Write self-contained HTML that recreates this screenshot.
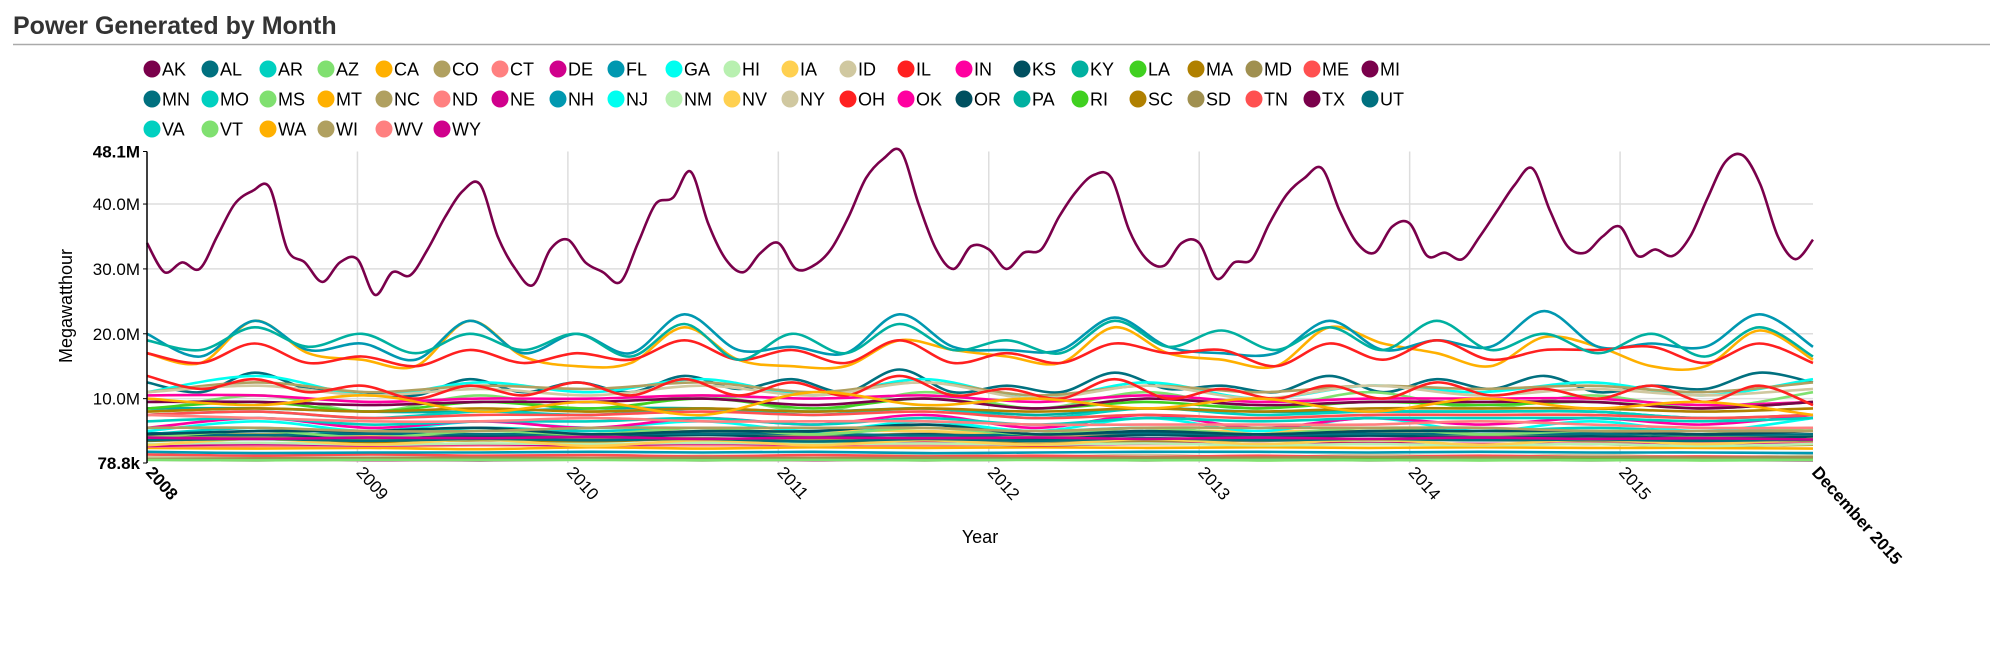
<!DOCTYPE html>
<html><head><meta charset="utf-8"><style>
html,body{margin:0;padding:0;background:#fff;width:2000px;height:653px;overflow:hidden}
svg text{font-family:"Liberation Sans",sans-serif}
</style></head><body>
<svg id="chart" width="2000" height="653" viewBox="0 0 2000 653" xmlns="http://www.w3.org/2000/svg">
<text x="13" y="34" font-size="25" font-weight="bold" fill="#333">Power Generated by Month</text>
<line x1="13" y1="44.5" x2="1990" y2="44.5" stroke="#aaa" stroke-width="1.5"/>
<g id="legend"></g>
<g id="grid"></g>
<g id="series"></g>
<g id="axes"></g>
<text transform="translate(72,306) rotate(-90)" text-anchor="middle" font-size="18" fill="#000">Megawatthour</text>
<text x="980" y="543" text-anchor="middle" font-size="18" fill="#000">Year</text>
</svg>
<script>
const states = ["AK","AL","AR","AZ","CA","CO","CT","DE","FL","GA","HI","IA","ID","IL","IN","KS","KY","LA","MA","MD","ME","MI","MN","MO","MS","MT","NC","ND","NE","NH","NJ","NM","NV","NY","OH","OK","OR","PA","RI","SC","SD","TN","TX","UT","VA","VT","WA","WI","WV","WY"];
const palette = ["#7a004b","#00707f","#00d0c0","#80e070","#ffb000","#b0a060","#ff8080","#d0008c","#0098b0","#00fff0","#b8f0b0","#ffd050","#d0c8a0","#ff2020","#ff00a0","#005060","#00b0a0","#40d020","#b08000","#a09050","#ff5050"];
const yTicks = [10,20,30,40];
const yTickLabels = ["10.0M","20.0M","30.0M","40.0M"];
const yMin = 0.0788, yMax = 48.1;
const xYears = ["2009","2010","2011","2012","2013","2014","2015"];
const TX = [34,29.5,31,30,35,40,42,42.5,33,31,28,31,
 31.5,26,29.5,29,33,38,42,43,35,30,27.5,33,
 34.5,31,29.5,28,34,40,41,45,37,31.5,29.5,32.5,
 34,30,30.5,33,38,44,47,48.1,40,33,30,33.5,
 33,30,32.5,33,38,42,44.5,44,36,31.5,30.5,34,
 34,28.5,31,31.5,37,41.5,44,45.5,39,34,32.5,36.5,
 37,32,32.5,31.5,35,39,43,45.5,39,33.5,32.5,35,
 36.5,32,33,32,35,41,46.5,47.5,43,35,31.5,34.5];
const FL = [20,16.5,22,17.5,18.5,16,22,17,20,17,23,17.5,18,17,23,18,17.5,17.5,22.5,18,17,17,22,17.5,19,18,23.5,18,18.5,18,23,18];
const PA = [19,17.5,21,18,20,17,20,17.5,20,16.5,21.5,16,20,17,21.5,17.5,19,17,22,18,20.5,17.5,21,17.5,22,17.5,20,17,20,16.5,21,16.5];
const CA = [17,15.5,22,17,16,15,22,16.5,15,15.5,21,16,15,15,19,17.5,16.5,15.5,21,17,16,15,21,18.5,17,15,19.5,18,15,15,20.5,16];
const IL = [17,15.5,18.5,15.5,16.5,15,17.5,15.5,17,16,19,16,17.5,15.5,19,15.5,17,15.5,18.5,17,17.5,15,18.5,16,19,16,17.5,17.5,18,15.5,18.5,15.5];
const AL = [12.5,11,14,11.5,11,10.5,13,11,12.5,11,13.5,11.5,13,11,14.5,11,12,11,14,11.5,12,11,13.5,11,13,11.5,13.5,11,12,11.5,14,12.5];
const OH = [13.5,11.5,13,11,12,10,12,10.5,12.5,10.5,13,10.5,12.5,10.5,13.5,10.5,11.5,10,13,10,11.5,10,12,10,12.5,10.5,11.5,10,12,9.5,12,9];
const GA = [11,13.5,10.5,12.5,11,13,10.5,13,10,12.5,10,12,11,12.5,10.5,13];
const NC = [11,12.5,11,12,11.5,12.5,11,12.5,10.5,12,11,12,11.5,12,11,12.5];
const NY = [11,12,10.5,11.5,10.5,12,10.5,12.5,10,12,10,12,10.5,11.5,10.5,11.5];
const IN = [10.5,10.5,9.5,10,10,10.5,10,10.5,9.5,10.5,9.5,10,10,10,9,9.5];
const MI = [9.5,9.5,9,9.5,9.5,10,9,10,8.5,10,9,9.5,9.5,9.5,8.5,9.5];
const AZ = [8,10.5,8,10.5,8,10.5,8,11,8.5,11,8.5,11,8.5,10.5,8.5,11];
const WA = [10,9,10.5,8,9.5,7.5,11,9,10,8.5,10,8,10,8.5,9.5,7.5];
const LA = [8.5,9.5,8,9.5,8.5,10,8.5,10,8.5,9.5,8.5,9.5,9,9.5,8.5,9.5];
const KY = [8.5,8.5,8,8,8.5,8.5,8,8.5,7.5,8.5,8,8,8,8,7,7.5];
const SC = [8,8.5,8,8.5,8,8.5,8,8.5,8,8.5,8,8.5,8.5,8.5,8,8.5];
const MO = [7.5,8,7,8,7.5,8.5,7.5,8.5,7,8.5,7.5,8,8,8,7,7.5];
const TN = [7.5,8,7,7.5,7.5,8,7.5,8,7,7.5,7,7.5,7.5,7.5,7,7.5];
const VA = [6.5,7,6,6.5,6.5,7,6,7,6,7,6.5,7,7,7,6.5,7];
const WV = [7.5,7,6.5,6.5,7,6.5,6.5,6.5,6,6,6,6,6.5,6,5.5,5.5];
const OK = [5.5,7,5.5,6.5,5.5,7,6,7.5,5.5,7.5,5.5,7,6,7,6,7.5];
const NJ = [5,6.5,5,6.5,5.5,6.5,5,6.5,5,7,5,7,5,6.5,5,7];
const AR = [4.5,5.5,4.5,5.5,5,5.5,4.5,6,5,5.5,4.5,5.5,5,5.5,5,5.5];
const WI = [5.5,5.5,5,5,5.5,5.5,5.5,5.5,5,5.5,5.5,5.5,5.5,5,5,5];
const OR = [4.5,5,5,5.5,4.5,5,5,6,4.5,5,4.5,5,5,5,4.5,5];
const MS = [4,5,4,5,4.5,5.5,4.5,5.5,4.5,5.5,4.5,5.5,4.5,5,4.5,5.5];
const IA = [4.5,4.5,4.5,4.5,4.5,5,5,5,4.5,5,5,5,5,5,5,5];
const MN = [4.7,4.4,4.6,4.5,4.5,4.6,4.6,4.3,4.5,4.7,4.4,4.6,4.5,4.6,4.4,4.5];
const CO = [4.2,4.5,4.1,4.5,4.2,4.5,4.2,4.6,4.2,4.6,4.1,4.5,4.2,4.5,4.1,4.4];
const KS = [4,4.4,3.9,4.2,4,4.4,4,4.5,3.8,4.4,4,4.3,4,4.2,3.9,4.1];
const WY = [4,3.8,4,3.9,4.1,3.8,4,3.9,4,3.8,4,3.8,4,3.8,3.9,3.7];
const MD = [4,4,3.7,3.8,3.8,3.9,3.6,3.7,3.4,3.6,3.5,3.7,3.6,3.5,3.3,3.5];
const UT = [3.6,3.8,3.5,3.8,3.6,3.8,3.4,3.8,3.5,3.9,3.6,3.8,3.6,3.7,3.5,3.7];
const MA = [3.5,3.8,3.3,3.6,3.4,3.8,3.2,3.5,3,3.4,3,3.2,2.9,3,2.7,2.9];
const NV = [2.8,3.8,2.9,3.7,2.7,3.6,2.8,3.6,2.9,3.8,3,3.7,2.9,3.7,3,3.8];
const NM = [3,3.2,2.9,3.1,3,3.2,3,3.1,2.9,3.1,2.8,3,2.8,3,2.7,3];
const NE = [2.7,3,2.8,3,2.8,3.1,2.9,3.2,2.8,3.1,3,3.1,3,3,2.9,3];
const ND = [2.6,2.7,2.7,2.8,2.8,2.8,2.8,2.8,2.9,3,3,3,3,3,3.1,3.1];
const CT = [2.6,3,2.6,2.9,2.7,3,2.7,3.2,2.9,3.2,2.8,3.1,3,3.1,3,3.1];
const MT = [2.4,2.3,2.4,2.2,2.5,2.3,2.5,2.4,2.5,2.4,2.5,2.4,2.5,2.4,2.4,2.3];
const NH = [1.8,1.6,1.7,1.7,1.8,1.7,1.8,1.6,1.7,1.8,1.8,1.7,1.8,1.7,1.7,1.6];
const ID = [1,1.2,1,1.1,1,1.2,1.1,1.4,1.1,1.3,1,1.3,1.1,1.3,1,1.2];
const ME = [1.4,1.2,1.4,1.2,1.3,1.1,1.3,1.1,1.2,1,1.2,1,1.2,1,1.1,0.9];
const HI = [0.9,0.9,0.9,0.9,0.9,0.9,0.9,0.9,0.85,0.9,0.85,0.9,0.85,0.85,0.85,0.85];
const SD = [0.7,0.8,0.8,0.9,0.8,0.9,0.8,0.9,0.8,0.9,0.9,1,0.9,1,0.9,1];
const DE = [0.6,0.8,0.5,0.6,0.6,0.7,0.5,0.7,0.6,0.8,0.7,0.8,0.7,0.8,0.6,0.7];
const RI = [0.6,0.7,0.6,0.6,0.6,0.7,0.6,0.7,0.6,0.7,0.5,0.6,0.5,0.6,0.5,0.6];
const VT = [0.55,0.5,0.55,0.55,0.55,0.5,0.55,0.5,0.55,0.5,0.55,0.5,0.55,0.5,0.55,0.55];
const AK = [0.6,0.5,0.6,0.5,0.6,0.5,0.6,0.5,0.6,0.5,0.6,0.5,0.55,0.5,0.55,0.5];

const seriesData = {AK,AL,AR,AZ,CA,CO,CT,DE,FL,GA,HI,IA,ID,IL,IN,KS,KY,LA,MA,MD,ME,MI,MN,MO,MS,MT,NC,ND,NE,NH,NJ,NM,NV,NY,OH,OK,OR,PA,RI,SC,SD,TN,TX,UT,VA,VT,WA,WI,WV,WY};

const NS = "http://www.w3.org/2000/svg";
const X0 = 147, X1 = 1813, Y0 = 463, Y1 = 151.5;
const totalMonths = 95;
function xScale(m){ return X0 + (X1 - X0) * m / totalMonths; }
function yScale(v){ return Y0 - (v - yMin) / (yMax - yMin) * (Y0 - Y1); }
function mk(tag, attrs, parent){ const e = document.createElementNS(NS, tag); for (const k in attrs) e.setAttribute(k, attrs[k]); parent.appendChild(e); return e; }

const legend = document.getElementById('legend');
states.forEach((s, i) => {
  const row = Math.floor(i / 22), col = i % 22;
  const cx = 152 + col * 58, cy = 69 + row * 30;
  const g = mk('g', {}, legend);
  
  
  mk('circle', {cx: cx, cy: cy, r: 8.5, fill: palette[i % 21]}, g);
  const t = mk('text', {x: cx + 10, y: cy + 6.5, 'font-size': 18, fill: '#000'}, g);
  t.textContent = s;
});

const grid = document.getElementById('grid');
yTicks.forEach((v, i) => {
  const l = mk('line', {x1: X0, x2: X1, y1: yScale(v), y2: yScale(v), stroke: '#ddd', 'stroke-width': 1.5}, grid);
  
  
});
xYears.forEach((y, i) => {
  const x = xScale((i + 1) * 12);
  const l = mk('line', {x1: x, x2: x, y1: Y1, y2: Y0, stroke: '#ddd', 'stroke-width': 1.5}, grid);
  
  
});

function pathFor(vals){
  const n = vals.length;
  const pts = vals.map((v, i) => [xScale(i * totalMonths / (n - 1)), yScale(v)]);
  let d = 'M' + pts[0][0].toFixed(1) + ',' + pts[0][1].toFixed(1);
  for (let i = 0; i < n - 1; i++) {
    const p0 = pts[Math.max(0, i - 1)], p1 = pts[i], p2 = pts[i + 1], p3 = pts[Math.min(n - 1, i + 2)];
    const c1x = p1[0] + (p2[0] - p0[0]) / 6, c1y = p1[1] + (p2[1] - p0[1]) / 6;
    const c2x = p2[0] - (p3[0] - p1[0]) / 6, c2y = p2[1] - (p3[1] - p1[1]) / 6;
    d += 'C' + c1x.toFixed(1) + ',' + c1y.toFixed(1) + ' ' + c2x.toFixed(1) + ',' + c2y.toFixed(1) + ' ' + p2[0].toFixed(1) + ',' + p2[1].toFixed(1);
  }
  return d;
}
const sg = document.getElementById('series');
states.forEach((s, i) => {
  const p = mk('path', {d: pathFor(seriesData[s]), fill: 'none', stroke: palette[i % 21], 'stroke-width': 2.6, 'stroke-linejoin': 'round'}, sg);
  
  
});

const ax = document.getElementById('axes');
const yl = mk('line', {x1: X0, x2: X0, y1: Y1, y2: Y0, stroke: '#000', 'stroke-width': 1.5}, ax);


function yLabel(text, v, bold){
  const t = mk('text', {x: 140, y: yScale(v) + 6, 'text-anchor': 'end', 'font-size': 17, 'font-weight': bold ? 'bold' : 'normal', fill: '#000'}, ax);
  t.textContent = text;
  mk('line', {x1: X0 - 4, x2: X0, y1: yScale(v), y2: yScale(v), stroke: '#000'}, ax);
  return t;
}
const topL = yLabel('48.1M', yMax, true);


yTicks.forEach((v, i) => {
  const t = yLabel(yTickLabels[i], v, false);
  
  
});
const botL = yLabel('78.8k', yMin, true);



function xLabel(text, m, bold){
  const x = xScale(m);
  const t = mk('text', {transform: 'translate(' + (x - 2) + ',' + (Y0 + 10) + ') rotate(48)', 'font-size': 17, 'font-weight': bold ? 'bold' : 'normal', fill: '#000'}, ax);
  t.textContent = text;
  return t;
}
const x0l = xLabel('2008', 0, true);


xYears.forEach((y, i) => {
  const t = xLabel(y, (i + 1) * 12, false);
  
  
});
const xEnd = xLabel('December 2015', totalMonths, true);


</script>
</body></html>
